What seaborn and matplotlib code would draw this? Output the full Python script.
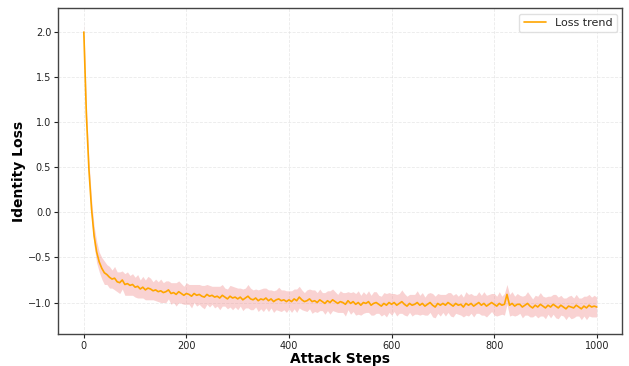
import numpy as np
import pandas as pd
import seaborn as sns
import matplotlib
matplotlib.use("Agg")
import matplotlib.pyplot as plt

# Attack steps sampled every 5 steps (0..1000)
steps = list(range(0, 1001, 5))

loss = [
    2.00, 1.08, 0.47, 0.04, -0.26, -0.44, -0.55, -0.62, -0.67, -0.69,
    -0.72, -0.74, -0.73, -0.77, -0.78, -0.75, -0.80, -0.79, -0.81, -0.80,
    -0.83, -0.82, -0.85, -0.83, -0.86, -0.84, -0.85, -0.87, -0.86, -0.88,
    -0.87, -0.89, -0.88, -0.86, -0.90, -0.89, -0.91, -0.88, -0.90, -0.92,
    -0.90, -0.91, -0.93, -0.90, -0.92, -0.91, -0.93, -0.94, -0.91, -0.93,
    -0.92, -0.94, -0.93, -0.95, -0.92, -0.94, -0.96, -0.93, -0.95, -0.94,
    -0.96, -0.94, -0.97, -0.95, -0.93, -0.96, -0.97, -0.95, -0.98, -0.96,
    -0.97, -0.95, -0.98, -0.96, -0.99, -0.97, -0.96, -0.98, -0.97, -0.99,
    -0.97, -0.99, -0.96, -0.98, -0.94, -0.97, -0.99, -0.98, -0.96, -0.99,
    -0.98, -1.00, -0.97, -0.99, -1.01, -0.98, -1.00, -0.97, -0.99, -1.01,
    -0.99, -1.00, -1.02, -0.98, -1.01, -0.99, -1.02, -1.00, -1.03, -1.00,
    -1.01, -0.99, -1.03, -1.01, -1.00, -1.02, -1.04, -1.01, -1.03, -1.00,
    -1.02, -1.00, -1.03, -1.01, -0.99, -1.02, -1.04, -1.01, -1.03, -1.02,
    -1.00, -1.03, -1.01, -1.04, -1.02, -1.00, -1.03, -1.05, -1.01, -1.03,
    -1.01, -1.03, -1.00, -1.02, -1.04, -1.01, -1.03, -1.02, -1.05, -1.01,
    -1.03, -1.01, -1.04, -1.02, -1.00, -1.03, -1.01, -1.04, -1.02, -1.00,
    -1.02, -1.04, -1.01, -1.03, -1.02, -0.91, -1.03, -1.01, -1.04, -1.02,
    -1.02, -1.05, -1.03, -1.01, -1.04, -1.06, -1.03, -1.05, -1.02, -1.04,
    -1.06, -1.03, -1.05, -1.02, -1.04, -1.06, -1.03, -1.05, -1.07, -1.04,
    -1.05, -1.06, -1.03, -1.05, -1.07, -1.04, -1.06, -1.03, -1.05, -1.04,
    -1.05,
]

loss_std = [
    0.10, 0.10, 0.10, 0.11, 0.11, 0.12, 0.11, 0.12, 0.13, 0.11,
    0.12, 0.10, 0.13, 0.11, 0.12, 0.10, 0.12, 0.13, 0.11, 0.12,
    0.11, 0.13, 0.10, 0.12, 0.11, 0.13, 0.12, 0.10, 0.12, 0.11,
    0.13, 0.11, 0.12, 0.10, 0.12, 0.11, 0.13, 0.12, 0.11, 0.10,
    0.12, 0.11, 0.13, 0.10, 0.12, 0.11, 0.12, 0.13, 0.11, 0.12,
    0.10, 0.12, 0.11, 0.13, 0.12, 0.10, 0.11, 0.12, 0.13, 0.11,
    0.12, 0.10, 0.12, 0.11, 0.13, 0.12, 0.11, 0.10, 0.12, 0.11,
    0.13, 0.11, 0.12, 0.10, 0.12, 0.11, 0.13, 0.12, 0.11, 0.12,
    0.10, 0.12, 0.11, 0.13, 0.12, 0.11, 0.10, 0.12, 0.11, 0.13,
    0.12, 0.11, 0.12, 0.10, 0.12, 0.11, 0.13, 0.12, 0.11, 0.10,
    0.12, 0.11, 0.13, 0.10, 0.12, 0.11, 0.12, 0.13, 0.11, 0.12,
    0.10, 0.12, 0.11, 0.13, 0.12, 0.10, 0.11, 0.12, 0.13, 0.11,
    0.12, 0.10, 0.12, 0.11, 0.13, 0.12, 0.11, 0.10, 0.12, 0.11,
    0.13, 0.11, 0.12, 0.10, 0.12, 0.11, 0.13, 0.12, 0.11, 0.12,
    0.10, 0.12, 0.11, 0.13, 0.12, 0.11, 0.10, 0.12, 0.11, 0.13,
    0.12, 0.11, 0.12, 0.10, 0.12, 0.11, 0.13, 0.12, 0.11, 0.10,
    0.12, 0.11, 0.13, 0.10, 0.12, 0.11, 0.12, 0.13, 0.11, 0.12,
    0.10, 0.12, 0.11, 0.13, 0.12, 0.10, 0.11, 0.12, 0.13, 0.11,
    0.12, 0.10, 0.12, 0.11, 0.13, 0.12, 0.11, 0.10, 0.12, 0.11,
    0.13, 0.11, 0.12, 0.10, 0.12, 0.11, 0.13, 0.12, 0.11, 0.12,
    0.11,
]

x_ticks = [0, 200, 400, 600, 800, 1000]
y_ticks = [-1.0, -0.5, 0.0, 0.5, 1.0, 1.5, 2.0]

df = pd.DataFrame({"step": steps, "loss": loss, "std": loss_std})

sns.set_theme(style="white")
plt.rcParams["font.family"] = ["DejaVu Sans"]

fig = plt.figure(figsize=(6.29, 3.66), dpi=100)
ax = fig.add_axes([0.0925, 0.087, 0.897, 0.891])

ax.fill_between(df["step"], df["loss"] - df["std"], df["loss"] + df["std"],
                color="#f08080", alpha=0.35, linewidth=0)
sns.lineplot(data=df, x="step", y="loss", ax=ax, color="orange",
             linewidth=1.2, label="Loss trend")

ax.set_xlim(-50, 1050)
ax.set_ylim(-1.351, 2.266)
ax.set_xticks(x_ticks)
ax.set_yticks(y_ticks)
ax.tick_params(axis="both", labelsize=7, length=3, width=0.8, colors="#222222",
               direction="out", bottom=True, left=True, pad=2)
ax.grid(True, linestyle="--", linewidth=0.6, color="#dddddd", alpha=0.6)
for s in ax.spines.values():
    s.set_color("#444444")
    s.set_linewidth(1.0)

ax.set_xlabel("Attack Steps", fontsize=10, fontweight="bold", labelpad=1,
              color="black")
ax.set_ylabel("Identity Loss", fontsize=10, fontweight="bold", labelpad=1,
              color="black")

leg = ax.legend(loc="upper right", fontsize=8, frameon=True, framealpha=0.9)
leg.get_frame().set_edgecolor("#dddddd")

fig.savefig("out.png", dpi=100)
